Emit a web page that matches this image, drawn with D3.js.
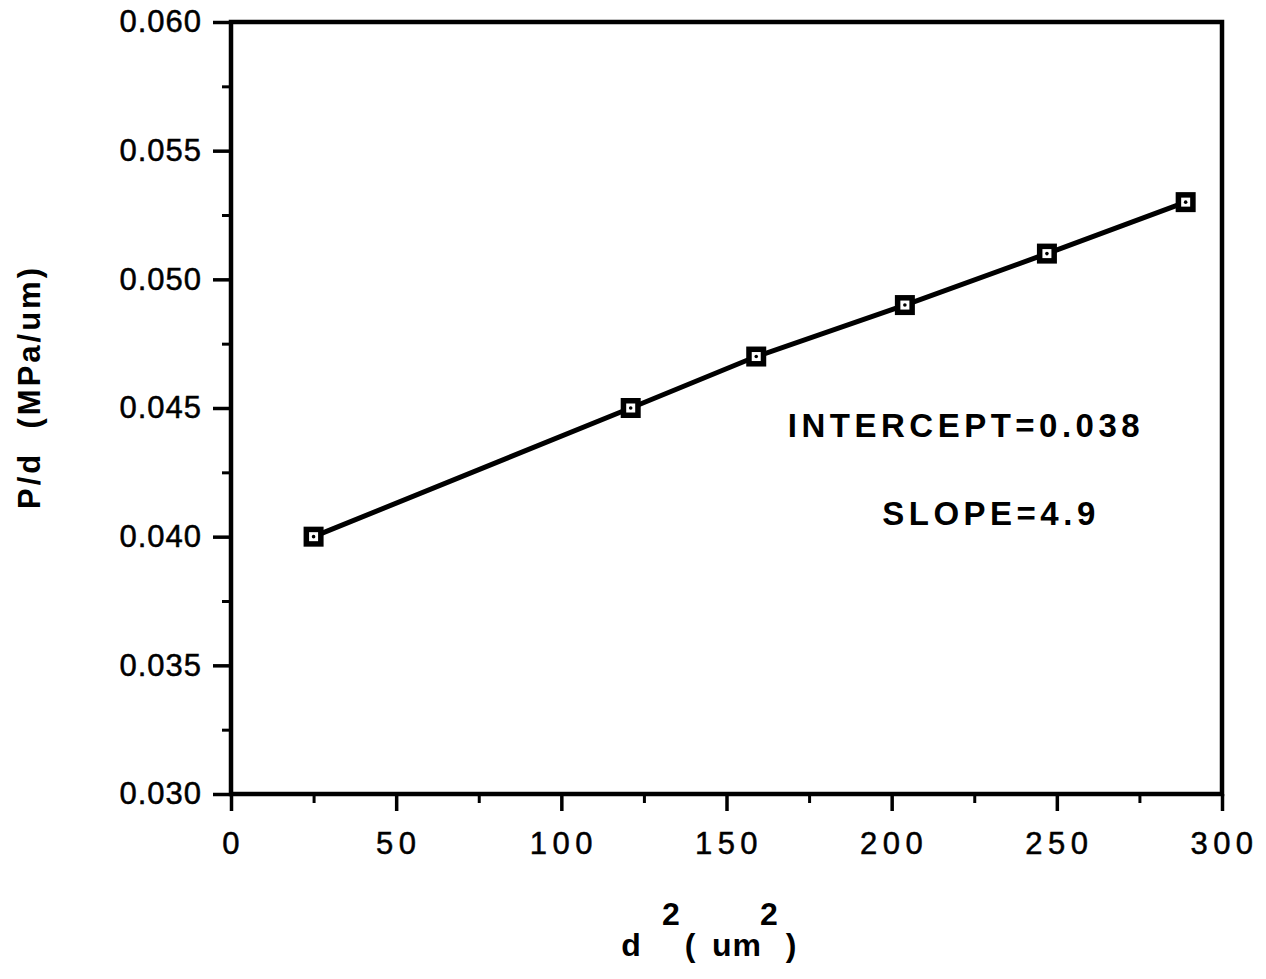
<!DOCTYPE html>
<html>
<head>
<meta charset="utf-8">
<script src="https://cdn.jsdelivr.net/npm/d3@7"></script>
<style>
  html, body { margin: 0; padding: 0; background: #fff; }
  text { font-family: "Liberation Sans", Arial, sans-serif; fill: #000; }
</style>
</head>
<body>
<div id="chart"></div>
<script>
// data
const d2_values = [25, 121, 159, 204, 247, 289];
const pd_values = [0.040, 0.045, 0.047, 0.049, 0.051, 0.053];
const x_ticks = [0, 50, 100, 150, 200, 250, 300];
const x_minor = [25, 75, 125, 175, 225, 275];
const y_ticks = [0.030, 0.035, 0.040, 0.045, 0.050, 0.055, 0.060];
const y_minor = [0.0325, 0.0375, 0.0425, 0.0475, 0.0525, 0.0575];
const fit_notes = ['INTERCEPT=0.038', 'SLOPE=4.9'];

const width = 1266, height = 979;
const margin = { top: 22, right: 44, bottom: 185, left: 231 };

const svg = d3.select('#chart').append('svg')
  .attr('width', width)
  .attr('height', height)
  .attr('viewBox', [0, 0, width, height]);

const x = d3.scaleLinear().domain([0, 300]).range([margin.left, width - margin.right]);
const y = d3.scaleLinear().domain([0.030, 0.060]).range([height - margin.bottom, margin.top]);

const points = d2_values.map((v, i) => ({ x: v, y: pd_values[i] }));

// frame
svg.append('rect')
  .attr('x', x(0)).attr('y', y(0.060))
  .attr('width', x(300) - x(0)).attr('height', y(0.030) - y(0.060))
  .attr('fill', 'none').attr('stroke', '#000').attr('stroke-width', 4.5);

// axes (outward ticks)
const xAxis = svg.append('g').attr('transform', `translate(0,${y(0.030)})`);
xAxis.append('g')
  .call(d3.axisBottom(x).tickValues(x_minor).tickSize(9).tickFormat(''))
  .call(g => g.select('.domain').remove())
  .call(g => g.selectAll('line').attr('stroke-width', 3));
xAxis.append('g')
  .call(d3.axisBottom(x).tickValues(x_ticks).tickSize(17).tickPadding(21).tickFormat(d3.format('d')))
  .call(g => g.select('.domain').remove())
  .call(g => g.selectAll('line').attr('stroke-width', 3.5))
  .call(g => g.selectAll('text')
    .attr('font-size', 31)
    .attr('letter-spacing', 5.5)
    .attr('dx', 2)
    .attr('stroke', '#000').attr('stroke-width', 0.5)
    .attr('font-family', '"Liberation Sans", Arial, sans-serif'));

const yAxis = svg.append('g').attr('transform', `translate(${x(0)},0)`);
yAxis.append('g')
  .call(d3.axisLeft(y).tickValues(y_minor).tickSize(9).tickFormat(''))
  .call(g => g.select('.domain').remove())
  .call(g => g.selectAll('line').attr('stroke-width', 3));
yAxis.append('g')
  .call(d3.axisLeft(y).tickValues(y_ticks).tickSize(18).tickPadding(11).tickFormat(d3.format('.3f')))
  .call(g => g.select('.domain').remove())
  .call(g => g.selectAll('line').attr('stroke-width', 3.5))
  .call(g => g.selectAll('text')
    .attr('font-size', 31)
    .attr('letter-spacing', 1)
    .attr('stroke', '#000').attr('stroke-width', 0.5)
    .attr('font-family', '"Liberation Sans", Arial, sans-serif'));

// fitted line through points
svg.append('path')
  .datum(points)
  .attr('fill', 'none')
  .attr('stroke', '#000')
  .attr('stroke-width', 5)
  .attr('stroke-linejoin', 'round')
  .attr('d', d3.line().x(d => x(d.x)).y(d => y(d.y)));

// square markers
const marks = svg.append('g').selectAll('g')
  .data(points)
  .join('g')
  .attr('transform', d => `translate(${x(d.x)},${y(d.y)})`);
marks.append('rect')
  .attr('x', -10).attr('y', -10).attr('width', 20).attr('height', 20)
  .attr('fill', '#000');
marks.append('rect')
  .attr('x', -4.5).attr('y', -4.5).attr('width', 9).attr('height', 9)
  .attr('fill', '#fff');
marks.append('circle')
  .attr('r', 1.8).attr('fill', '#000');

// annotations
svg.append('text')
  .attr('x', 966).attr('y', 437)
  .attr('text-anchor', 'middle')
  .attr('font-size', 33).attr('font-weight', 'bold').attr('letter-spacing', 4.5)
  .text(fit_notes[0]);
svg.append('text')
  .attr('x', 991).attr('y', 525)
  .attr('text-anchor', 'middle')
  .attr('font-size', 33).attr('font-weight', 'bold').attr('letter-spacing', 4.5)
  .text(fit_notes[1]);

// x title: d² ( um² )
const xt = svg.append('g').attr('font-weight', 'bold').attr('font-size', 32);
xt.append('text').attr('x', 631).attr('y', 956).attr('text-anchor', 'middle').text('d');
xt.append('text').attr('x', 671).attr('y', 925).attr('text-anchor', 'middle').text('2');
xt.append('text').attr('x', 690).attr('y', 956).attr('text-anchor', 'middle').text('(');
xt.append('text').attr('x', 737).attr('y', 956).attr('text-anchor', 'middle').attr('letter-spacing', 1).text('um');
xt.append('text').attr('x', 769).attr('y', 925).attr('text-anchor', 'middle').text('2');
xt.append('text').attr('x', 791).attr('y', 956).attr('text-anchor', 'middle').text(')');

// y title
svg.append('text')
  .attr('transform', 'translate(40,387) rotate(-90)')
  .attr('text-anchor', 'middle')
  .attr('font-size', 31).attr('font-weight', 'bold').attr('letter-spacing', 3)
  .attr('xml:space', 'preserve')
  .style('white-space', 'pre')
  .text('P/d  (MPa/um)');
</script>
</body>
</html>
